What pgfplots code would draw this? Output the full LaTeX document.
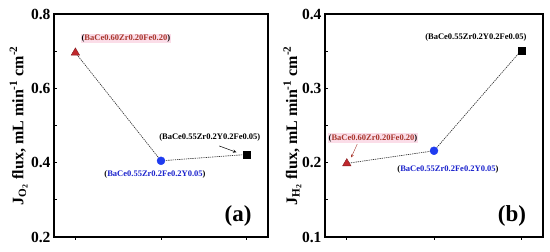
\documentclass[border=0pt]{standalone}
\usepackage{pgfplots}
\pgfplotsset{compat=1.18}
\usepackage{fontspec}
\setmainfont{Liberation Serif}
\definecolor{myred}{HTML}{C0282D}
\definecolor{txtred}{HTML}{A8362C}
\definecolor{myblue}{HTML}{1F3CF0}
\definecolor{txtblue}{HTML}{1A22CC}
\definecolor{lpink}{HTML}{FBDDE8}
\tikzset{
 lab/.style={font=\fontsize{8.5}{9}\selectfont\bfseries, inner sep=0.8pt},
 conn/.style={dash pattern=on 1.3pt off 0.9pt, line width=0.65pt, black!80},
}
\begin{document}
\begin{tikzpicture}[x=1pt,y=1pt]
\useasboundingbox (0,0) rectangle (550,252);
\pgfplotsset{
 myax/.style={scale only axis, width=214pt, height=223pt,
  xmin=0.75, xmax=3.25, xtick={1,2,3}, xticklabels={},
  xtick align=outside, ytick align=inside,
  xtick pos=left, ytick pos=left, minor y tick num=1,
  axis line style={line width=1.1pt},
  every tick/.style={line width=0.8pt, black},
  major tick length=3pt, minor tick length=2.5pt,
  yticklabel style={font=\fontsize{15.5}{15.5}\selectfont\bfseries},
  ylabel style={font=\fontsize{16}{18}\selectfont\bfseries,
    at={(axis description cs:-0.165,0.5)}, anchor=center},
  clip=false},
 tri/.style={only marks, mark=triangle*, mark size=4.8pt,
   mark options={fill=myred, draw=myred!70!black, line width=0.4pt}},
 circ/.style={only marks, mark=*, mark size=4pt,
   mark options={fill=myblue, draw=myblue}},
 sq/.style={only marks, mark=square*, mark size=3.5pt,
   mark options={fill=black, draw=black}},
}
% ---------- panel (a)
\begin{axis}[myax, at={(54pt,15pt)}, anchor=south west,
  ymin=0.2, ymax=0.8, ytick={0.2,0.4,0.6,0.8},
  yticklabels={0.2,0.4,0.6,0.8},
  ylabel={J\textsubscript{O\textsubscript{2}} flux, mL min\textsuperscript{-1} cm\textsuperscript{-2}}]
\addplot[conn, mark=none] coordinates {(1,0.696) (2,0.405) (3,0.422)};
\addplot[tri] coordinates {(1,0.696)};
\addplot[circ] coordinates {(2,0.405)};
\addplot[sq] coordinates {(3,0.422)};
\node[lab, fill=lpink] at (axis cs:1.59,0.735) {(\textcolor{txtred}{BaCe0.60Zr0.20Fe0.20})};
\node[lab] at (axis cs:1.93,0.367) {(\textcolor{txtblue}{BaCe0.55Zr0.2Fe0.2Y0.05})};
\node[lab] at (axis cs:2.57,0.469) {(BaCe0.55Zr0.2Y0.2Fe0.05)};
\draw[-stealth, line width=0.5pt] (axis cs:2.68,0.445) -- (axis cs:2.88,0.428);
\node[font=\fontsize{23}{23}\selectfont\bfseries] at (axis description cs:0.86,0.094) {(a)};
\end{axis}
% ---------- panel (b)
\begin{axis}[myax, width=218pt, at={(325pt,15pt)}, anchor=south west,
  ymin=0.1, ymax=0.4, ytick={0.1,0.2,0.3,0.4},
  yticklabels={0.1,0.2,0.3,0.4},
  ylabel={J\textsubscript{H\textsubscript{2}} flux, mL min\textsuperscript{-1} cm\textsuperscript{-2}},
  ylabel style={at={(axis description cs:-0.15,0.5)}}]
\addplot[conn, mark=none] coordinates {(1,0.199) (2,0.216) (3,0.351)};
\addplot[tri] coordinates {(1,0.199)};
\addplot[circ] coordinates {(2,0.216)};
\addplot[sq] coordinates {(3,0.351)};
\node[lab] at (axis cs:2.48,0.369) {(BaCe0.55Zr0.2Y0.2Fe0.05)};
\node[lab, fill=lpink] at (axis cs:1.30,0.233) {(\textcolor{txtred}{BaCe0.60Zr0.20Fe0.20})};
\draw[-stealth, line width=0.4pt, txtred] (axis cs:1.12,0.225) -- (axis cs:1.05,0.207);
\node[lab] at (axis cs:2.16,0.1915) {(\textcolor{txtblue}{BaCe0.55Zr0.2Fe0.2Y0.05})};
\node[font=\fontsize{23}{23}\selectfont\bfseries] at (axis description cs:0.858,0.094) {(b)};
\end{axis}
\end{tikzpicture}
\end{document}
